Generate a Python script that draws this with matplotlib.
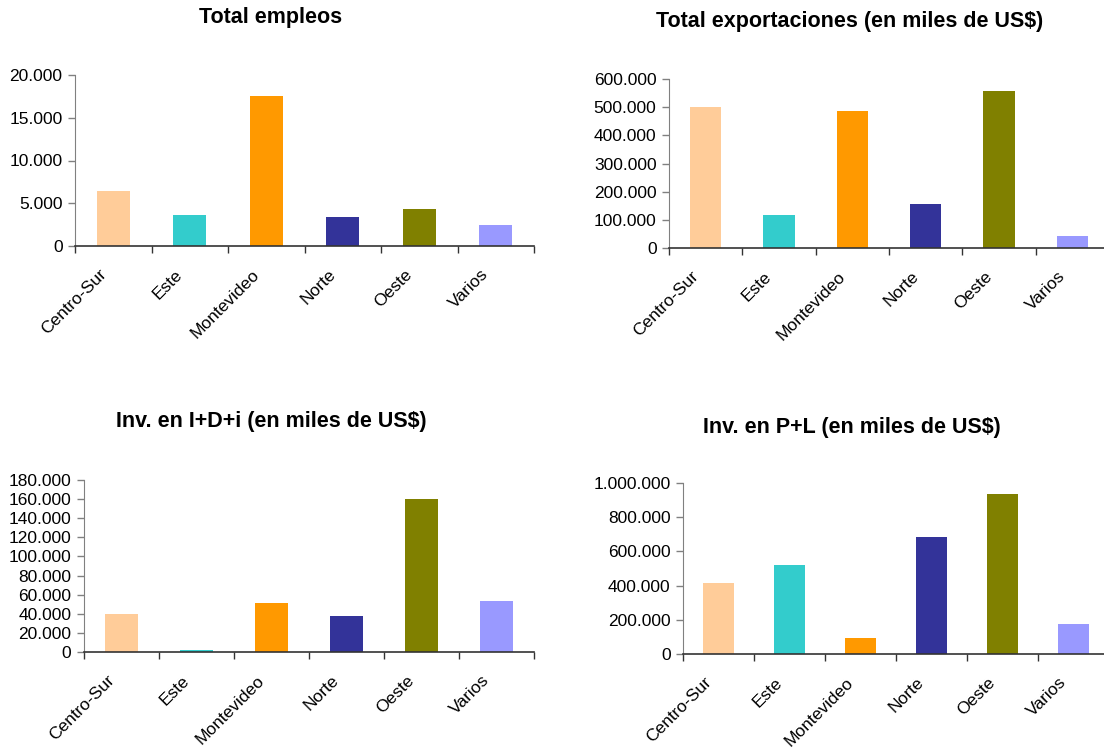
import numpy as np
import matplotlib
matplotlib.use("Agg")
import matplotlib.pyplot as plt
from matplotlib.ticker import FuncFormatter, FixedLocator

plt.rcParams['font.family'] = ['Liberation Sans', 'DejaVu Sans']

# datos
regiones = ["Centro-Sur", "Este", "Montevideo", "Norte", "Oeste", "Varios"]
colores = ["#FFCC99", "#33CCCC", "#FF9900", "#333399", "#808000", "#9999FF"]

empleos = [6450, 3650, 17550, 3400, 4350, 2450]
exportaciones = [500000, 118000, 485000, 157000, 557000, 43000]
inv_idi = [40000, 1800, 51000, 38000, 160000, 53000]
inv_pl = [415000, 520000, 94000, 684000, 936000, 175000]

titulos = ["Total empleos",
           "Total exportaciones (en miles de US$)",
           "Inv. en I+D+i (en miles de US$)",
           "Inv. en P+L (en miles de US$)"]
ymax = [20000, 600000, 180000, 1000000]
ypaso = [5000, 100000, 20000, 200000]

W, H = 1104, 747
# (izq, der, arriba, abajo) en pixeles
cajas = [(75, 534, 75, 246), (669, 1109, 79, 248),
         (84, 534, 480, 652), (683, 1109, 483, 654)]
pos_titulo = [(271, 17), (850, 22), (271, 422), (852, 427)]
corrimiento_px = 15  # etiquetas algo a la izquierda del centro


def miles(v, pos=None):
    return f"{int(round(v)):,}".replace(",", ".")


fig = plt.figure(figsize=(W / 100, H / 100), dpi=100)

series = [empleos, exportaciones, inv_idi, inv_pl]
for i, vals in enumerate(series):
    l, r, t, b = cajas[i]
    ax = fig.add_axes([l / W, 1 - b / H, (r - l) / W, (b - t) / H])
    x = np.arange(len(regiones))
    ax.bar(x, vals, width=0.43, color=colores, zorder=2)

    ax.set_xlim(-0.5, len(regiones) - 0.5)
    ax.set_ylim(0, ymax[i])
    ax.yaxis.set_major_locator(FixedLocator(np.arange(0, ymax[i] + 1, ypaso[i])))
    ax.yaxis.set_major_formatter(FuncFormatter(miles))

    # marcas en los limites de categoria, etiquetas en el centro
    ax.xaxis.set_major_locator(FixedLocator(np.arange(-0.5, len(regiones), 1.0)))
    ax.xaxis.set_major_formatter(FuncFormatter(lambda v, p: ""))
    ancho_cat = (r - l) / len(regiones)
    ax.set_xticks(x - corrimiento_px / ancho_cat, minor=True)
    ax.set_xticklabels(regiones, minor=True, rotation=45, ha="right",
                       va="top", rotation_mode="anchor", fontsize=12.5)
    ax.tick_params(axis="x", which="minor", length=0, pad=15)
    ax.tick_params(axis="x", which="major", length=5, width=1, color="#333333")
    ax.tick_params(axis="y", length=5, width=1, color="#808080",
                   labelsize=12.5, pad=4)

    for s in ["top", "right"]:
        ax.spines[s].set_visible(False)
    ax.spines["left"].set_color("#808080")
    ax.spines["bottom"].set_color("#333333")
    ax.spines["bottom"].set_linewidth(1.2)
    ax.set_facecolor("none")

    tx, ty = pos_titulo[i]
    fig.text(tx / W, 1 - ty / H, titulos[i], ha="center", va="center",
             fontsize=15.5, fontweight="bold")

fig.savefig("out.png", dpi=100)
